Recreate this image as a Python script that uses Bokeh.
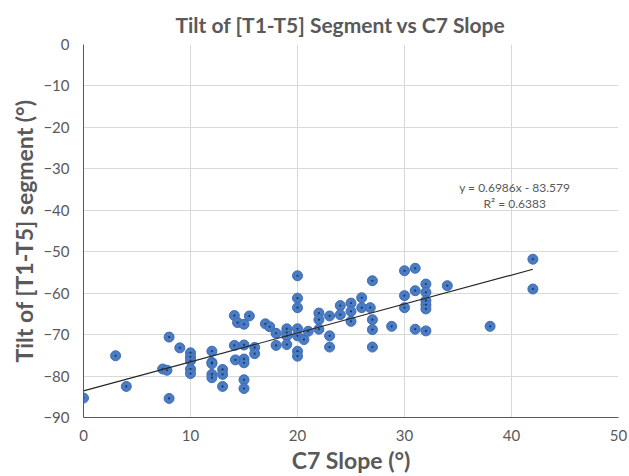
from bokeh.plotting import figure
from bokeh.models import Range1d, ColumnDataSource, Label, FixedTicker
from bokeh.embed import file_html
from bokeh.resources import INLINE

# --- data ---
c7_slope = [0, 3, 4, 7.4, 7.8, 8, 8, 9,
            10, 10, 10, 10, 10,
            12, 12, 12, 12, 12,
            13, 13, 13,
            14.1, 14.4, 15, 15.5, 14.1, 15, 14.2, 15, 15, 15, 15,
            16, 16, 17, 17.4, 18, 18,
            19, 19, 19, 19,
            20, 20, 20, 20, 20, 20, 20,
            20.6, 21,
            22, 22, 22,
            23, 23, 23,
            24, 24,
            25, 25, 25,
            26, 26, 26.8,
            27, 27, 27, 27,
            28.8,
            30, 30, 30,
            31, 31, 31,
            32, 32, 32, 32, 32, 32,
            34, 38, 42, 42]
t1t5_tilt = [-85.3, -75.1, -82.5, -78.3, -78.6, -70.6, -85.4, -73.2,
             -74.4, -75.4, -76.3, -78.3, -79.4,
             -74.0, -76.7, -77.0, -79.6, -80.4,
             -78.4, -79.6, -82.5,
             -65.4, -67.1, -67.5, -65.5, -72.6, -72.5, -76.1, -75.9, -76.8, -80.9, -83.0,
             -73.1, -74.6, -67.4, -68.1, -69.7, -72.6,
             -68.6, -69.5, -70.3, -72.4,
             -55.8, -61.2, -63.5, -68.6, -70.3, -74.0, -75.2,
             -71.2, -69.2,
             -64.8, -66.4, -68.7,
             -65.5, -70.3, -73.0,
             -63.0, -65.2,
             -62.4, -64.4, -66.8,
             -61.1, -63.5, -63.5,
             -57.0, -66.4, -68.8, -73.0,
             -68.0,
             -54.6, -60.6, -63.5,
             -54.0, -59.4, -68.7,
             -57.8, -59.8, -61.8, -62.8, -63.8, -69.1,
             -58.2, -68.0, -51.8, -59.0]

trend_slope = 0.6986
trend_intercept = -83.579
equation_text = "y = 0.6986x - 83.579"
r2_text = "R\u00b2 = 0.6383"

title_text = "Tilt of [T1-T5] Segment vs C7 Slope"
x_label = "C7 Slope (\u00b0)"
y_label = "Tilt of [T1-T5] segment (\u00b0)"
x_ticks = [0, 10, 20, 30, 40, 50]
y_ticks = [0, -10, -20, -30, -40, -50, -60, -70, -80, -90]

FONT = "Lato"
GREY = "#595959"

p = figure(width=629, height=476, output_backend="svg", toolbar_location=None,
           x_range=Range1d(0, 50), y_range=Range1d(-90, 0),
           min_border_left=83, min_border_right=11, min_border_top=44, min_border_bottom=58,
           title=title_text)
p.outline_line_color = None
p.background_fill_color = "white"
p.border_fill_color = "white"

p.title.text_font = FONT
p.title.text_font_size = "21px"
p.title.text_font_style = "bold"
p.title.text_color = GREY
p.title.align = "left"
p.title.offset = 92
p.title.standoff = 15

for ax, ticks in ((p.xaxis[0], x_ticks), (p.yaxis[0], y_ticks)):
    ax.ticker = FixedTicker(ticks=ticks)
    ax.major_tick_line_color = None
    ax.minor_tick_line_color = None
    ax.axis_line_color = "#595959"
    ax.axis_line_width = 1
    ax.major_label_text_font = FONT
    ax.major_label_text_font_size = "15px"
    ax.major_label_text_color = GREY
    ax.axis_label_text_font = FONT
    ax.axis_label_text_font_size = "23px"
    ax.axis_label_text_font_style = "bold"
    ax.axis_label_text_color = GREY

p.xaxis.axis_label = x_label
p.yaxis.axis_label = y_label
p.xaxis.major_label_standoff = 6
p.xaxis.axis_label_standoff = 2
p.yaxis.major_label_standoff = 8
p.yaxis.axis_label_standoff = 2

p.xgrid.ticker = FixedTicker(ticks=x_ticks)
p.ygrid.ticker = FixedTicker(ticks=y_ticks)
p.grid.grid_line_color = "#D9D9D9"
p.grid.grid_line_width = 1

src = ColumnDataSource(dict(x=c7_slope, y=t1t5_tilt))
p.scatter("x", "y", source=src, size=10, fill_color="#4A7CC4", line_color="#3F6DB3",
          line_width=1)
p.scatter("x", "y", source=src, size=2.2, fill_color="#1F3864", line_color=None)

x0, x1 = min(c7_slope), max(c7_slope)
p.line([x0, x1], [trend_slope * x0 + trend_intercept, trend_slope * x1 + trend_intercept],
       line_color="#262626", line_width=1.2)

p.add_layout(Label(x=40.3, y=-34.4, text=equation_text, text_align="center",
                   text_baseline="middle", text_font=FONT, text_font_size="12px",
                   text_color=GREY))
p.add_layout(Label(x=40.3, y=-38.4, text=r2_text, text_align="center",
                   text_baseline="middle", text_font=FONT, text_font_size="12px",
                   text_color=GREY))

open("out.html", "w").write(file_html(p, INLINE))
